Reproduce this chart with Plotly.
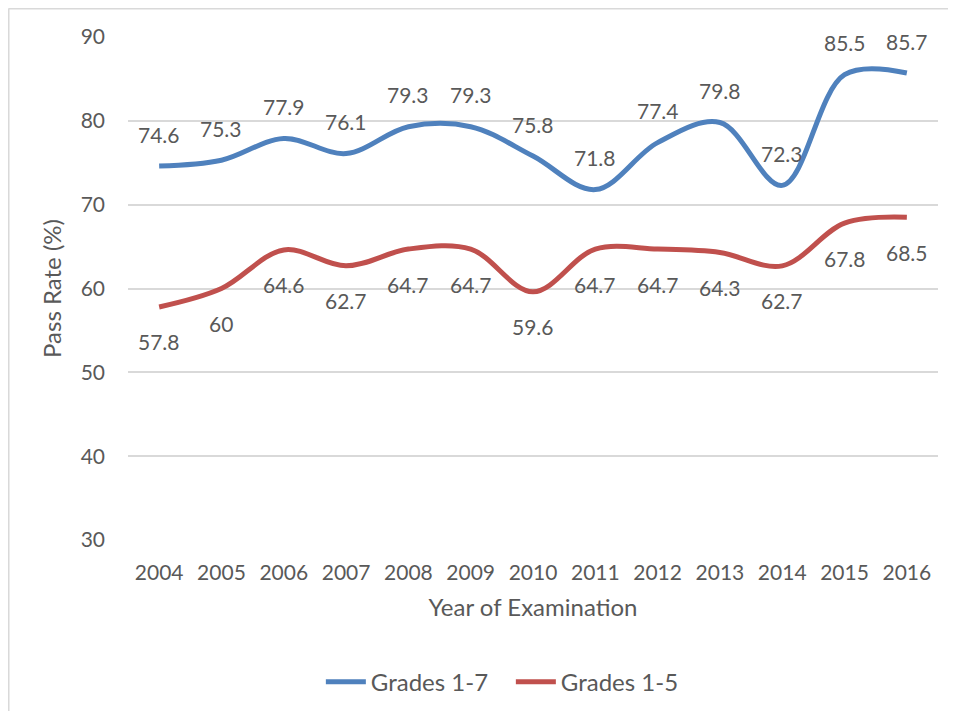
import plotly.graph_objects as go

years = [2004, 2005, 2006, 2007, 2008, 2009, 2010, 2011, 2012, 2013, 2014, 2015, 2016]
grades_1_7 = [74.6, 75.3, 77.9, 76.1, 79.3, 79.3, 75.8, 71.8, 77.4, 79.8, 72.3, 85.5, 85.7]
grades_1_5 = [57.8, 60, 64.6, 62.7, 64.7, 64.7, 59.6, 64.7, 64.7, 64.3, 62.7, 67.8, 68.5]
y_ticks = [30, 40, 50, 60, 70, 80, 90]

BLUE = "#4F81BD"
RED = "#C0504D"
TEXT = "#595959"
FONT = "Lato"

fig = go.Figure()
fig.add_trace(go.Scatter(
    x=years, y=grades_1_7, name="Grades 1-7", mode="lines",
    line=dict(color=BLUE, width=5, shape="spline", smoothing=1),
))
fig.add_trace(go.Scatter(
    x=years, y=grades_1_5, name="Grades 1-5", mode="lines",
    line=dict(color=RED, width=5, shape="spline", smoothing=1),
))

# data labels: blue above the line, red below
annotations = []
for x, v in zip(years, grades_1_7):
    annotations.append(dict(x=x, y=v, text=f"{v:g}", showarrow=False, yshift=32,
                            font=dict(size=21, color=TEXT, family=FONT)))
for x, v in zip(years, grades_1_5):
    annotations.append(dict(x=x, y=v, text=f"{v:g}", showarrow=False, yshift=-35,
                            font=dict(size=21, color=TEXT, family=FONT)))

# chart border, only the left and top edges show in the crop
border = dict(color="#D9D9D9", width=2)
shapes = [
    dict(type="line", xref="paper", yref="paper", x0=-0.1475, x1=1.1, y0=1.0567, y1=1.0567, line=border),
    dict(type="line", xref="paper", yref="paper", x0=-0.1475, x1=-0.1475, y0=1.0567, y1=-0.4, line=border),
]

fig.update_layout(
    width=956, height=711,
    margin=dict(l=120, r=26, t=29, b=179),
    paper_bgcolor="white", plot_bgcolor="white",
    font=dict(family=FONT, size=21, color=TEXT),
    showlegend=True,
    legend=dict(orientation="h", xref="container", yref="container",
                x=0.526, y=0.052, xanchor="center", yanchor="middle",
                font=dict(size=24, color=TEXT), itemwidth=40, entrywidth=135),
    annotations=annotations,
    shapes=shapes,
    xaxis=dict(
        range=[2003.5, 2016.5], tickvals=years, ticktext=[str(y) for y in years],
        showgrid=False, zeroline=False, showline=False, ticks="",
        ticklabelstandoff=18,
        title=dict(text="Year of Examination", standoff=16, font=dict(size=24, color=TEXT)),
        fixedrange=True,
    ),
    yaxis=dict(
        range=[30, 90], tickvals=y_ticks,
        showgrid=True, gridcolor="#D9D9D9", gridwidth=1.5,
        zeroline=False, showline=False, ticks="",
        ticklabelstandoff=22,
        title=dict(text="Pass Rate (%)", standoff=12, font=dict(size=24, color=TEXT)),
        fixedrange=True,
    ),
)

fig.write_html("out.html")
